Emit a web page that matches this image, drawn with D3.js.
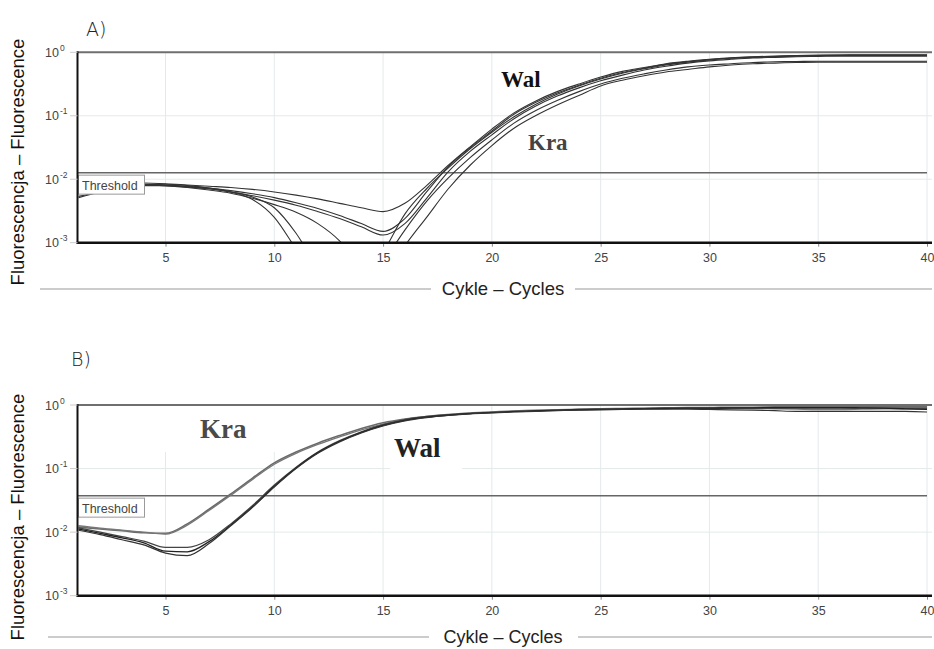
<!DOCTYPE html>
<html><head><meta charset="utf-8">
<script src="https://cdn.jsdelivr.net/npm/d3@7"></script>
<style>
html,body{margin:0;padding:0;background:#fff;}
svg{display:block;font-family:"Liberation Sans",Arial,sans-serif;}
</style></head>
<body>
<svg id="chart" width="934" height="649"></svg>
<script>
// ---------- DATA ----------
const cycles = d3.range(1, 41);
const xTicks = [5, 10, 15, 20, 25, 30, 35, 40];
const yTicks = [1, 0.1, 0.01, 0.001];
const yTickExp = ["0", "-1", "-2", "-3"];

// Panel A
const thresholdA = 0.0127;
const a1 = [0.00871,0.00891,0.00891,0.00871,0.00851,0.00813,0.00776,0.00741,0.00692,0.00631,0.00562,0.00490,0.00417,0.00355,0.00309,0.00417,0.00794,0.0166,0.0324,0.0617,0.110,0.170,0.240,0.316,0.407,0.501,0.575,0.661,0.724,0.776,0.822,0.851,0.871,0.891,0.902,0.908,0.912,0.912,0.912,0.912];
const a2 = [0.00851,0.00871,0.00851,0.00832,0.00813,0.00776,0.00724,0.00661,0.00589,0.00513,0.00427,0.00347,0.00269,0.00200,0.00151,0.00240,0.00631,0.0158,0.0316,0.0575,0.105,0.162,0.229,0.302,0.389,0.479,0.562,0.646,0.708,0.767,0.813,0.841,0.861,0.881,0.891,0.902,0.902,0.902,0.902,0.902];
const a3 = [0.00537,0.00631,0.00724,0.00794,0.00794,0.00759,0.00708,0.00631,0.00550,0.00468,0.00389,0.00309,0.00240,0.00178,0.00132,0.00200,0.00501,0.0132,0.0275,0.0501,0.0891,0.141,0.204,0.275,0.355,0.437,0.525,0.603,0.676,0.733,0.776,0.813,0.832,0.851,0.861,0.871,0.871,0.871,0.871,0.871];
const a4 = [0.00513,0.00631,0.00741,0.00813,0.00832,0.00794,0.00724,0.00631,0.00479,0.00251,0.000794,0.000251,0.000126,0.000251,0.000708,0.00282,0.00708,0.0151,0.0302,0.0550,0.0955,0.151,0.219,0.295,0.380,0.468,0.550,0.631,0.700,0.759,0.804,0.832,0.851,0.871,0.881,0.891,0.891,0.891,0.891,0.891];
const a5 = [0.00832,0.00851,0.00832,0.00813,0.00794,0.00759,0.00708,0.00631,0.00525,0.00355,0.00141,0.000398,0.000158,0.000200,0.000501,0.00158,0.00447,0.0105,0.0219,0.0417,0.0759,0.120,0.174,0.240,0.316,0.389,0.457,0.525,0.589,0.631,0.661,0.692,0.708,0.716,0.724,0.724,0.724,0.724,0.724,0.724];
const a6 = [0.00851,0.00851,0.00832,0.00813,0.00794,0.00741,0.00676,0.00603,0.00501,0.00398,0.00302,0.00200,0.00107,0.000398,0.000251,0.000891,0.00251,0.00708,0.0166,0.0339,0.0631,0.100,0.148,0.209,0.295,0.363,0.427,0.490,0.537,0.589,0.631,0.661,0.676,0.692,0.700,0.700,0.700,0.700,0.700,0.700];

// Panel B
const thresholdB = 0.0375;
const k1 = [0.0120,0.0112,0.0105,0.00977,0.00955,0.0135,0.0229,0.0398,0.0708,0.123,0.182,0.251,0.331,0.427,0.525,0.603,0.661,0.708,0.750,0.776,0.804,0.822,0.841,0.855,0.871,0.881,0.891,0.902,0.912,0.912,0.923,0.923,0.933,0.933,0.933,0.933,0.933,0.933,0.933,0.933];
const k2 = [0.0126,0.0115,0.0107,0.0100,0.00933,0.0129,0.0219,0.0380,0.0676,0.117,0.174,0.240,0.316,0.407,0.501,0.589,0.646,0.692,0.733,0.767,0.794,0.813,0.832,0.851,0.861,0.871,0.881,0.891,0.891,0.891,0.891,0.881,0.871,0.861,0.851,0.851,0.861,0.871,0.871,0.871];
const w1 = [0.0117,0.0100,0.00851,0.00724,0.00575,0.00575,0.00759,0.0135,0.0263,0.0550,0.105,0.182,0.275,0.380,0.490,0.589,0.661,0.708,0.741,0.767,0.794,0.813,0.832,0.851,0.861,0.871,0.881,0.891,0.891,0.891,0.891,0.891,0.891,0.891,0.891,0.891,0.891,0.891,0.891,0.891];
const w2 = [0.0112,0.00955,0.00813,0.00676,0.00501,0.00490,0.00708,0.0129,0.0251,0.0525,0.102,0.178,0.269,0.372,0.479,0.575,0.646,0.692,0.733,0.759,0.785,0.804,0.822,0.841,0.851,0.861,0.871,0.881,0.891,0.891,0.902,0.902,0.912,0.912,0.912,0.912,0.902,0.891,0.871,0.851];
const w3 = [0.0107,0.00912,0.00759,0.00631,0.00468,0.00427,0.00661,0.0126,0.0245,0.0513,0.100,0.174,0.263,0.363,0.468,0.562,0.631,0.684,0.724,0.750,0.776,0.794,0.813,0.832,0.841,0.851,0.861,0.861,0.861,0.851,0.841,0.832,0.813,0.794,0.794,0.794,0.794,0.794,0.794,0.776];

const yTitle = "Fluorescencja \u2013 Fluorescence";
const xTitle = "Cykle \u2013 Cycles";

// ---------- DRAW ----------
const svg = d3.select("#chart");
const X0 = 77.5, XR = 932;
const x = d3.scaleLinear().domain([1, 40]).range([78.5, 927]);

function panel(cfg) {
  const y = d3.scaleLog().domain([0.001, 1]).range([cfg.bottom, cfg.top]);
  const g = svg.append("g");
  const clipId = "clip" + cfg.id;
  svg.append("clipPath").attr("id", clipId).append("rect")
    .attr("x", X0).attr("y", cfg.top).attr("width", XR - X0).attr("height", cfg.bottom - cfg.top);

  // grid
  g.selectAll(".vg").data(xTicks).join("line")
    .attr("x1", d => x(d)).attr("x2", d => x(d))
    .attr("y1", cfg.top).attr("y2", cfg.bottom)
    .attr("stroke", "#e4eaea").attr("stroke-width", 1);
  g.selectAll(".hg").data([0.1, 0.01]).join("line")
    .attr("x1", X0).attr("x2", XR)
    .attr("y1", d => y(d)).attr("y2", d => y(d))
    .attr("stroke", "#e4eaea").attr("stroke-width", 1);

  // label background boxes
  cfg.labels.forEach(l => {
    if (l.box) g.append("rect").attr("x", l.box[0]).attr("y", l.box[1])
      .attr("width", l.box[2]).attr("height", l.box[3]).attr("fill", "#fff");
  });

  // threshold
  const ty = y(cfg.threshold);
  g.append("line").attr("x1", X0).attr("x2", x(40)).attr("y1", ty).attr("y2", ty)
    .attr("stroke", "#666").attr("stroke-width", 1.5);

  // curves
  const line = d3.line().curve(d3.curveMonotoneX)
    .x((d, i) => x(cycles[i])).y(d => y(d));
  const cg = g.append("g").attr("clip-path", `url(#${clipId})`);
  cfg.series.forEach(s => {
    cg.append("path").datum(s.values).attr("d", line)
      .attr("fill", "none").attr("stroke", s.color).attr("stroke-width", s.width)
      .attr("stroke-linejoin", "round");
  });

  // threshold label
  g.append("rect").attr("x", 78.5).attr("y", ty + 2.5).attr("width", 66).attr("height", 19)
    .attr("fill", "#fff").attr("stroke", "#9a9a9a").attr("stroke-width", 1);
  g.append("text").attr("x", 82).attr("y", ty + 17).attr("font-size", 12.5)
    .attr("fill", "#444").text("Threshold");

  // frame
  g.append("line").attr("x1", X0).attr("x2", XR).attr("y1", cfg.top).attr("y2", cfg.top)
    .attr("stroke", "#6f6f6f").attr("stroke-width", 2);
  g.append("line").attr("x1", X0).attr("x2", X0).attr("y1", cfg.top - 1).attr("y2", cfg.bottom + 1)
    .attr("stroke", "#111").attr("stroke-width", 2);

  // x axis
  const ax = g.append("g").attr("transform", `translate(0,${cfg.bottom})`)
    .call(d3.axisBottom(x).tickValues(xTicks).tickSize(4).tickPadding(6).tickFormat(d3.format("d")));
  ax.select(".domain").remove();
  ax.selectAll(".tick line").attr("stroke", "#888");
  ax.selectAll(".tick text").attr("font-size", 12.5).attr("fill", "#444")
    .attr("font-family", "'Liberation Sans', Arial, sans-serif");
  g.append("line").attr("x1", X0 - 1).attr("x2", XR).attr("y1", cfg.bottom).attr("y2", cfg.bottom)
    .attr("stroke", "#111").attr("stroke-width", 2.5);

  // y ticks
  g.selectAll(".yt").data(yTicks).join("line")
    .attr("x1", 70).attr("x2", X0).attr("y1", d => y(d)).attr("y2", d => y(d))
    .attr("stroke", "#ccc").attr("stroke-width", 1);
  const yl = g.selectAll(".yl").data(yTicks).join("text")
    .attr("x", 45).attr("y", d => y(d) + 4.5)
    .attr("font-size", 12.5).attr("fill", "#444");
  yl.append("tspan").text("10");
  yl.append("tspan").attr("dy", -6).attr("font-size", 8.5).attr("dx", 1)
    .text((d, i) => yTickExp[i]);

  // panel letter
  g.append("text").attr("x", cfg.letterX).attr("y", cfg.letterY).attr("font-size", 19)
    .attr("fill", "#222").attr("font-family", "'DejaVu Sans', sans-serif")
    .attr("font-weight", 300).text(cfg.letter);

  // y title
  g.append("text").attr("transform", `translate(24,${cfg.yTitleY}) rotate(-90)`)
    .attr("text-anchor", "middle").attr("font-size", 18.5).attr("fill", "#111")
    .text(yTitle);

  // x title with rules
  g.append("line").attr("x1", cfg.ruleL[0]).attr("x2", cfg.ruleL[1])
    .attr("y1", cfg.ruleY).attr("y2", cfg.ruleY).attr("stroke", "#999").attr("stroke-width", 1);
  g.append("line").attr("x1", cfg.ruleR[0]).attr("x2", cfg.ruleR[1])
    .attr("y1", cfg.ruleY).attr("y2", cfg.ruleY).attr("stroke", "#999").attr("stroke-width", 1);
  g.append("text").attr("x", 503).attr("y", cfg.xTitleY).attr("text-anchor", "middle")
    .attr("font-size", cfg.xTitleSize).attr("fill", "#222").text(xTitle);

  // annotations
  cfg.labels.forEach(l => {
    g.append("text").attr("x", l.x).attr("y", l.y).attr("font-size", l.size)
      .attr("font-family", "'Liberation Serif', 'Times New Roman', serif")
      .attr("font-weight", "bold").attr("fill", l.color).text(l.text);
  });
}

panel({
  id: "A", top: 52.3, bottom: 242.7, threshold: thresholdA,
  letter: "A)", letterX: 86, letterY: 36, yTitleY: 162, xTitleY: 295, xTitleSize: 18.5, ruleY: 289,
  ruleL: [40, 431], ruleR: [575, 932],
  series: [a1, a2, a3, a4, a5, a6].map(v => ({values: v, color: "#333", width: 1.1})),
  labels: [
    {text: "Wal", x: 501, y: 87, size: 23, color: "#111"},
    {text: "Kra", x: 528, y: 150, size: 23, color: "#444"}
  ]
});

panel({
  id: "B", top: 405, bottom: 595.7, threshold: thresholdB,
  letter: "B)", letterX: 71, letterY: 366, yTitleY: 517, xTitleY: 643, xTitleSize: 18, ruleY: 637,
  ruleL: [48, 429], ruleR: [578, 932],
  series: [
    {values: k1, color: "#6a6a6a", width: 1.6},
    {values: k2, color: "#777", width: 1.4},
    {values: w1, color: "#444", width: 1.2},
    {values: w2, color: "#222", width: 1.3},
    {values: w3, color: "#333", width: 1.2}
  ],
  labels: [
    {text: "Kra", x: 200, y: 438, size: 27, color: "#4a4a4a", box: [165, 406, 115, 46]},
    {text: "Wal", x: 394, y: 457, size: 27, color: "#222", box: [390, 436, 72, 38]}
  ]
});
</script>
</body></html>
